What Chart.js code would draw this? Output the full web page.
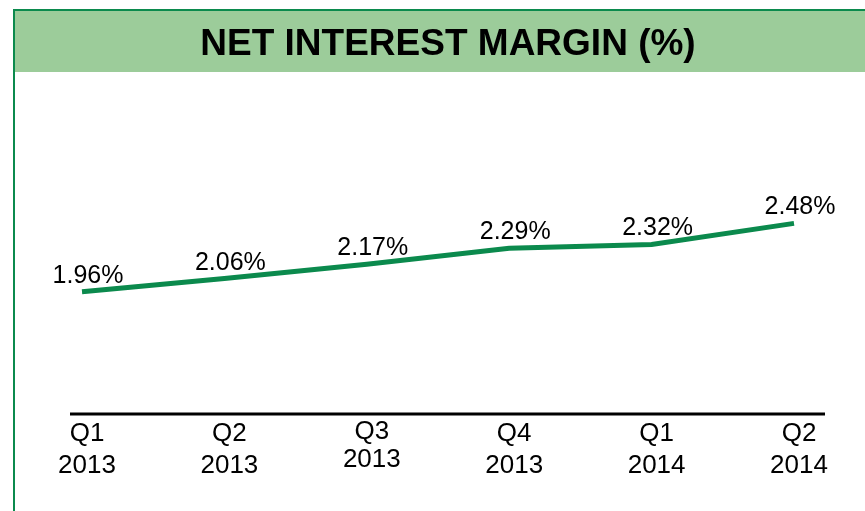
<!DOCTYPE html>
<html>
<head>
<meta charset="utf-8">
<script src="https://cdn.jsdelivr.net/npm/chart.js@4/dist/chart.umd.min.js"></script>
<style>
  html, body { margin: 0; padding: 0; background: #ffffff; }
  #wrap { width: 865px; height: 511px; }
</style>
</head>
<body>
<div id="wrap"><canvas id="myChart"></canvas></div>
<script>
// datos del grafico
const quarters = [['Q1', '2013'], ['Q2', '2013'], ['Q3', '2013'], ['Q4', '2013'], ['Q1', '2014'], ['Q2', '2014']];
const nimValues = [1.96, 2.06, 2.17, 2.29, 2.32, 2.48];
const chartTitle = 'NET INTEREST MARGIN (%)';

const darkGreen = '#0b8a4d';
const bandGreen = '#9ccc9a';

// fondo: banda verde con el titulo y el borde
const fondo = {
  id: 'fondo',
  beforeDraw(chart) {
    const c = chart.ctx;
    c.save();
    c.fillStyle = bandGreen;
    c.fillRect(15, 11, chart.width - 15, 61);
    c.fillStyle = darkGreen;
    c.fillRect(13, 9, chart.width - 13, 2);
    c.fillRect(13, 9, 2, chart.height - 9);
    c.fillStyle = '#000000';
    c.font = 'bold 37px "Liberation Sans", Arial, sans-serif';
    c.textAlign = 'center';
    c.textBaseline = 'alphabetic';
    c.fillText(chartTitle, 448, 55);
    c.restore();
  }
};

// linea del eje x y etiquetas de valores
const etiquetas = {
  id: 'etiquetas',
  afterDatasetsDraw(chart) {
    const c = chart.ctx;
    const area = chart.chartArea;
    c.save();
    c.strokeStyle = '#000000';
    c.lineWidth = 3;
    c.beginPath();
    c.moveTo(area.left - 12, area.bottom - 4);
    c.lineTo(area.right + 31, area.bottom - 4);
    c.stroke();

    c.fillStyle = '#000000';
    c.font = '25px "Liberation Sans", Arial, sans-serif';
    c.textAlign = 'center';
    c.textBaseline = 'alphabetic';
    chart.getDatasetMeta(0).data.forEach((pt, i) => {
      c.fillText(nimValues[i].toFixed(2) + '%', pt.x + 6, pt.y - 9);
    });
    c.restore();
  }
};

const ctx = document.getElementById('myChart');
new Chart(ctx, {
  type: 'line',
  data: {
    labels: quarters,
    datasets: [{
      label: chartTitle,
      data: nimValues,
      borderColor: darkGreen,
      borderWidth: 5,
      pointRadius: 0,
      tension: 0,
      fill: false
    }]
  },
  options: {
    responsive: true,
    maintainAspectRatio: false,
    animation: false,
    layout: {
      padding: { top: 155, left: 82, right: 71, bottom: 29 }
    },
    plugins: {
      legend: { display: false },
      title: { display: false },
      tooltip: { enabled: false }
    },
    scales: {
      x: {
        offset: false,
        grid: { display: false, drawTicks: false },
        border: { display: false },
        afterFit: s => { s.paddingLeft = 0; s.paddingRight = 0; },
        ticks: {
          color: '#000000',
          padding: 0,
          labelOffset: 5,
          maxRotation: 0,
          autoSkip: false,
          font: c => ({
            family: '"Liberation Sans", Arial, sans-serif',
            size: 26,
            lineHeight: c.index === 2 ? '28px' : '32px'
          })
        }
      },
      y: {
        display: false,
        min: 1.0,
        max: 3.0
      }
    }
  },
  plugins: [fondo, etiquetas]
});
</script>
</body>
</html>
